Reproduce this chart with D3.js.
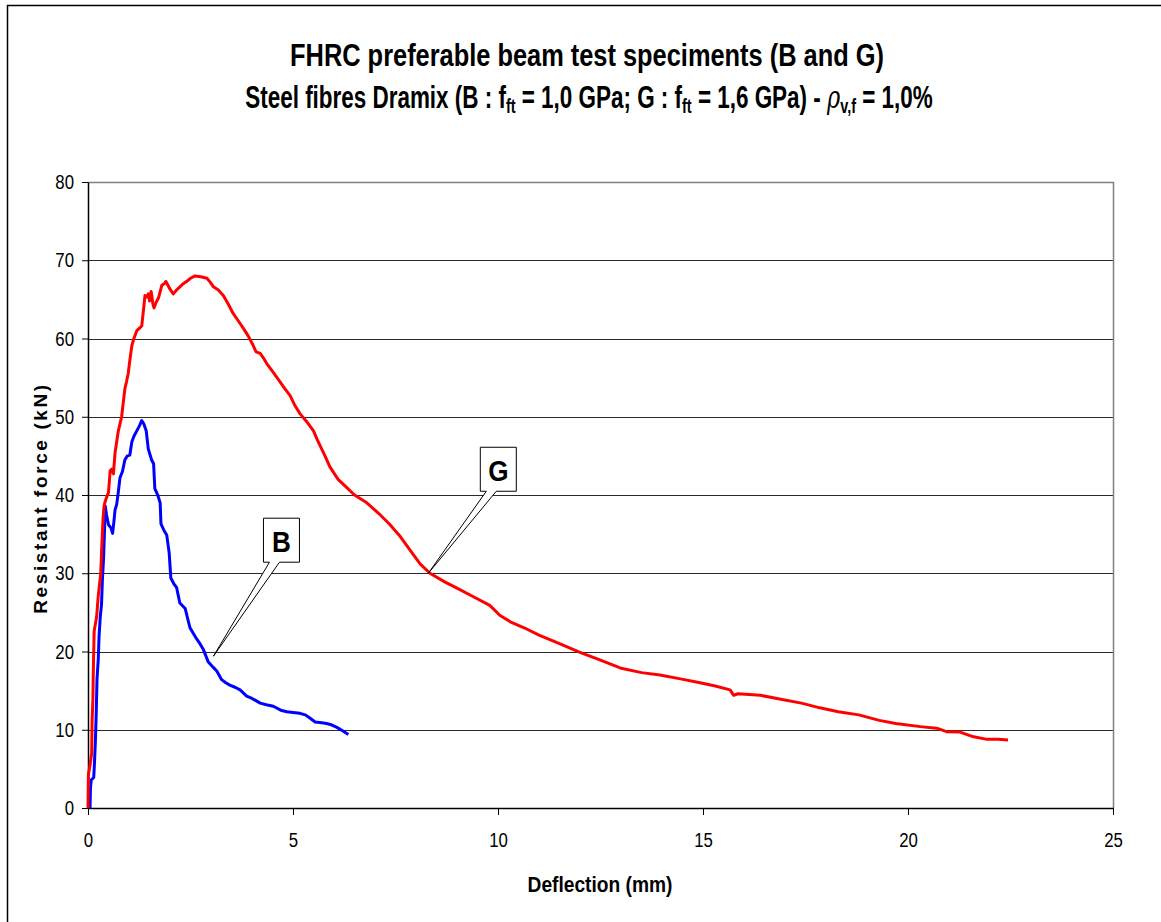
<!DOCTYPE html>
<html>
<head>
<meta charset="utf-8">
<script src="https://cdn.jsdelivr.net/npm/d3@7"></script>
<style>
  html, body { margin: 0; padding: 0; background: #fff; }
  svg { display: block; }
  text { font-family: "Liberation Sans", Arial, sans-serif; fill: #000; }
</style>
</head>
<body>
<svg id="chart" width="1161" height="922"></svg>
<script>
// Beam B – deflection (mm) and resistant force (kN)
const bDeflection = [0.05,0.06,0.08,0.14,0.16,0.18,0.2,0.22,0.25,0.27,0.3,0.33,0.35,0.38,0.4,0.42,0.45,0.5,0.56,0.6,
  0.63,0.66,0.7,0.74,0.78,0.84,0.9,0.96,1.02,1.07,1.12,1.19,1.26,1.31,1.36,1.42,1.47,1.55,1.6,1.63,
  1.7,1.76,1.78,1.85,1.92,1.98,2.02,2.1,2.16,2.24,2.37,2.44,2.49,2.57,2.65,2.73,2.81,2.93,3.05,3.14,
  3.26,3.36,3.46,3.6,3.71,3.87,4.0,4.2,4.35,4.52,4.7,4.85,5.0,5.17,5.3,5.41,5.54,5.7,5.82,5.95,6.07,6.2,6.35];
const bForce = [0,2.5,3.6,3.9,6,8.5,12,16.5,19,22,24.5,26,29,32,35,38.6,37.5,36.2,35.8,35.1,
  36.5,38.1,38.8,40.4,42.2,43,44.5,45,45.1,46.8,47.5,48.2,48.9,49.5,49.1,48.2,45.9,44.5,44.0,40.8,
  40,39,36.3,35.5,34.9,32.6,29.4,28.6,28.2,26.2,25.5,24,23,22.3,21.6,21,20.3,18.7,18,17.5,
  16.4,16,15.7,15.4,15.1,14.3,14,13.4,13.2,13,12.5,12.3,12.2,12.1,11.9,11.5,11.0,10.9,10.8,10.6,10.3,9.9,9.4];

// Beam G – deflection (mm) and resistant force (kN)
const gDeflection = [0,0.01,0.05,0.09,0.1,0.12,0.13,0.15,0.18,0.21,0.25,0.28,0.31,0.33,0.35,0.37,0.39,0.41,0.46,0.5,
  0.54,0.58,0.62,0.66,0.7,0.74,0.78,0.82,0.86,0.9,0.94,0.98,1.02,1.07,1.12,1.19,1.25,1.31,1.35,1.39,
  1.43,1.47,1.5,1.54,1.58,1.61,1.66,1.72,1.76,1.8,1.86,1.9,1.95,2.0,2.08,2.16,2.24,2.32,2.41,2.5,
  2.61,2.75,2.9,2.98,3.06,3.18,3.3,3.42,3.54,3.66,3.79,3.91,4.03,4.1,4.2,4.28,4.36,4.5,4.68,4.8,
  4.93,5.05,5.17,5.33,5.5,5.58,5.66,5.78,5.9,6.1,6.3,6.5,6.8,7.1,7.35,7.6,7.85,8.1,8.34,8.7,
  9.07,9.4,9.8,10.05,10.3,10.65,11.0,11.5,12.0,12.5,12.98,13.5,13.95,14.45,14.93,15.3,15.66,15.75,15.85,16.4,
  16.9,17.4,17.85,18.3,18.8,19.3,19.7,20.3,20.7,20.94,21.27,21.6,21.9,22.2,22.44];
const gForce = [0,4.3,5.5,7,11.1,14,17.5,22.6,23.5,24.4,27.1,28.5,29.9,32.6,35,37.2,38.5,39,39.8,40.3,
  43.1,43.3,42.7,45.4,46.8,48.2,49.1,50,51.8,53.6,54.5,55.5,57.2,59.1,60,61,61.3,61.6,63.5,65.5,
  65.3,65.7,64.8,66,64.5,63.9,64.6,65.2,66,66.8,67,67.3,66.8,66.3,65.7,66.2,66.6,67,67.3,67.7,
  68,67.9,67.7,67.2,66.6,66.2,65.5,64.4,63.2,62.3,61.3,60.3,59.1,58.3,58.1,57.5,56.8,55.8,54.5,53.6,
  52.7,51.4,50.4,49.4,48.2,47.2,46.3,45,43.6,42,41,40,39,37.6,36.3,34.8,33,31.2,30,28.9,
  27.9,27,25.9,24.6,23.8,23,22.1,21,19.9,18.9,17.9,17.3,17,16.5,16,15.6,15.1,14.4,14.6,14.4,
  13.9,13.4,12.8,12.3,11.9,11.2,10.8,10.4,10.2,9.75,9.7,9.1,8.8,8.8,8.7];

const xTicks = [0, 5, 10, 15, 20, 25];
const yTicks = [0, 10, 20, 30, 40, 50, 60, 70, 80];

// Callout labels: text and the point on the curve they point at
const calloutText = ["B", "G"];
const calloutAt = [[3.06, 19.4], [8.3, 30.0]];

const svg = d3.select("#chart");
const margin = { left: 88, right: 1113, top: 182, bottom: 808 };

const x = d3.scaleLinear().domain([0, 25]).range([margin.left, margin.right]);
const y = d3.scaleLinear().domain([0, 80]).range([margin.bottom, margin.top]);

// outer chart frame
svg.append("rect")
  .attr("x", 7.5).attr("y", 5.5).attr("width", 1200).attr("height", 1000)
  .attr("fill", "#fff").attr("stroke", "#000").attr("stroke-width", 1.5);

// horizontal gridlines
svg.append("g").selectAll("line")
  .data(yTicks.filter(d => d > 0 && d < 80))
  .join("line")
  .attr("x1", margin.left).attr("x2", margin.right)
  .attr("y1", d => Math.round(y(d)) + 0.5).attr("y2", d => Math.round(y(d)) + 0.5)
  .attr("stroke", "#2a2a2a").attr("stroke-width", 1);

// plot area frame (top and right)
svg.append("path")
  .attr("d", `M${margin.left},${margin.top + 0.5}H${margin.right + 0.5}V${margin.bottom}`)
  .attr("fill", "none").attr("stroke", "#808080").attr("stroke-width", 1.5);

// axes
const condense = 0.8;
const yAxis = svg.append("g")
  .attr("transform", `translate(${margin.left},0)`)
  .call(d3.axisLeft(y).tickValues(yTicks).tickSize(6).tickPadding(8).tickSizeOuter(0));
const xAxis = svg.append("g")
  .attr("transform", `translate(0,${margin.bottom})`)
  .call(d3.axisBottom(x).tickValues(xTicks).tickSize(7).tickPadding(17).tickSizeOuter(0));

[yAxis, xAxis].forEach(g => {
  g.select(".domain").attr("stroke", "#000").attr("stroke-width", 1.5);
  g.selectAll(".tick line").attr("stroke", "#000").attr("stroke-width", 1);
  g.selectAll(".tick text")
    .attr("font-size", 21)
    .attr("font-family", "'Liberation Sans', Arial, sans-serif")
    .attr("fill", "#000");
});
yAxis.selectAll(".tick text").each(function () {
  const t = d3.select(this);
  const xx = +t.attr("x");
  t.attr("x", null).attr("transform", `translate(${xx},0) scale(${condense},1)`);
});
xAxis.selectAll(".tick text").attr("transform", `scale(${condense},1)`);

// curves
const line = d3.line().x(d => x(d[0])).y(d => y(d[1]));
const seriesB = d3.zip(bDeflection, bForce);
const seriesG = d3.zip(gDeflection, gForce);

svg.append("path").datum(seriesB).attr("d", line)
  .attr("fill", "none").attr("stroke", "#0000ff").attr("stroke-width", 3)
  .attr("stroke-linejoin", "round");
svg.append("path").datum(seriesG).attr("d", line)
  .attr("fill", "none").attr("stroke", "#ff0000").attr("stroke-width", 3)
  .attr("stroke-linejoin", "round");

// callouts: box above-right of the point with a wedge pointer
const boxW = 36, boxH = 44;
const calloutOffset = [[50, -138], [52, -126]];
calloutText.forEach((label, i) => {
  const tx = x(calloutAt[i][0]), ty = y(calloutAt[i][1]);
  const left = tx + calloutOffset[i][0], top = ty + calloutOffset[i][1];
  const right = left + boxW, bottom = top + boxH;
  const p1 = left + 6, p2 = left + 16;
  const d = `M${left},${top}H${right}V${bottom}H${p2}L${tx},${ty}L${p1},${bottom}H${left}Z`;
  svg.append("path").attr("d", d)
    .attr("fill", "#fff").attr("stroke", "#000").attr("stroke-width", 1)
    .attr("stroke-linejoin", "miter");
  svg.append("text")
    .attr("text-anchor", "middle")
    .attr("transform", `translate(${(left + right) / 2},${top + 34}) scale(0.9,1)`)
    .attr("font-size", 29).attr("font-weight", "bold")
    .text(label);
});

// titles
function fitWidth(sel, cx, width) {
  const node = sel.node();
  const w = node.getComputedTextLength();
  const s = width / w;
  sel.attr("x", 0).attr("text-anchor", "middle")
    .attr("transform", `translate(${cx},${sel.attr("data-y")}) scale(${s},1)`)
    .attr("y", 0);
}

const t1 = svg.append("text").attr("data-y", 66)
  .attr("font-size", 31).attr("font-weight", "bold")
  .text("FHRC preferable beam test speciments (B and G)");
fitWidth(t1, 587, 594);

const t2 = svg.append("text").attr("data-y", 108)
  .attr("font-size", 31).attr("font-weight", "bold");
t2.append("tspan").text("Steel fibres Dramix (B : f");
t2.append("tspan").attr("font-size", 20).attr("dy", 5).text("ft");
t2.append("tspan").attr("dy", -5).text(" = 1,0 GPa; G : f");
t2.append("tspan").attr("font-size", 20).attr("dy", 5).text("ft");
t2.append("tspan").attr("dy", -5).text(" = 1,6 GPa) - ");
t2.append("tspan").attr("font-weight", "normal").attr("font-style", "italic")
  .attr("font-family", "'DejaVu Serif', serif").text("ρ");
t2.append("tspan").attr("font-size", 20).attr("dy", 5).text("v,f");
t2.append("tspan").attr("dy", -5).text(" = 1,0%");
fitWidth(t2, 589, 688);

const xt = svg.append("text").attr("data-y", 892)
  .attr("font-size", 22).attr("font-weight", "bold")
  .text("Deflection (mm)");
fitWidth(xt, 600, 145);

svg.append("text")
  .attr("transform", "translate(47,498) rotate(-90)")
  .attr("text-anchor", "middle")
  .attr("font-size", 19).attr("font-weight", "bold")
  .attr("letter-spacing", 2.6)
  .text("Resistant force (kN)");
</script>
</body>
</html>
